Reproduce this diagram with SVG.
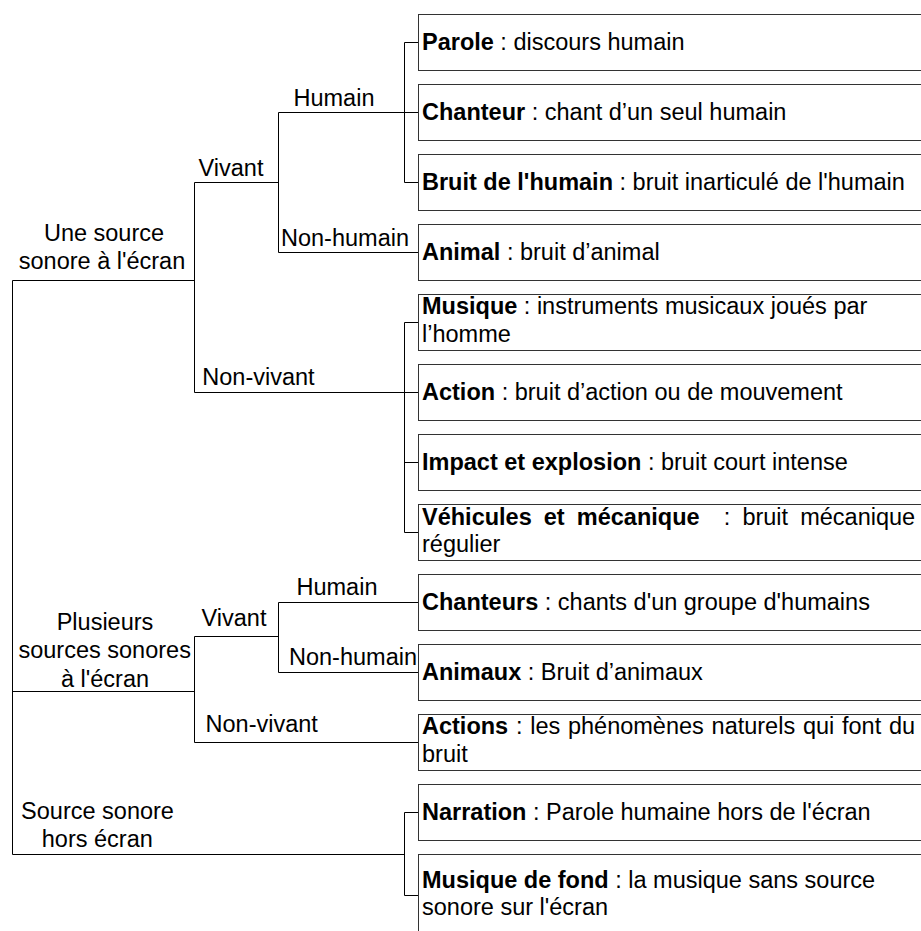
<svg xmlns="http://www.w3.org/2000/svg" width="921" height="931" viewBox="0 0 921 931">
<style>
text{font-family:"Liberation Sans",Arial,sans-serif;font-size:23.5px;fill:#000}
.b{font-weight:bold}
.m{text-anchor:middle}
.box{fill:#fff;stroke:#333;stroke-width:1}
.c{fill:none;stroke:#000;stroke-width:1}
</style>
<rect width="921" height="931" fill="#fff"/>
<g id="connectors">
<path class="c" d="M12.5 280.5 V854.5 M12.5 280.5 H194.5 M194.5 182.5 V392.5 M194.5 182.5 H278.5 M278.5 112.5 V252.5 M278.5 112.5 H418 M278.5 252.5 H418 M404.5 42.5 V182.5 M404.5 42.5 H418 M404.5 182.5 H418 M194.5 392.5 H418 M404.5 322.5 V532.5 M404.5 322.5 H418 M404.5 462.5 H418 M404.5 532.5 H418"/>
<path class="c" d="M12.5 691.5 H194.5 M194.5 636.5 V742.5 M194.5 636.5 H278.5 M278.5 602.5 V672.5 M278.5 602.5 H418 M278.5 672.5 H418 M194.5 742.5 H418"/>
<path class="c" d="M12.5 854.5 H404.5 M404.5 812.5 V895.5 M404.5 812.5 H418 M404.5 895.5 H418"/>
</g>
<g id="n-une-source"><text class="m" x="104" y="241">Une source</text><text class="m" x="102" y="268.5">sonore à l'écran</text></g>
<g id="n-vivant1"><text class="m" x="231" y="176">Vivant</text></g>
<g id="n-humain1"><text class="m" x="334" y="106">Humain</text></g>
<g id="n-nonhumain1"><text class="m" x="345" y="246">Non-humain</text></g>
<g id="n-nonvivant1"><text class="m" x="258.5" y="385">Non-vivant</text></g>
<g id="n-plusieurs"><text class="m" x="105" y="629.5">Plusieurs</text><text class="m" x="104.7" y="658.3">sources sonores</text><text class="m" x="105" y="687">à l'écran</text></g>
<g id="n-vivant2"><text class="m" x="234" y="626">Vivant</text></g>
<g id="n-humain2"><text class="m" x="337" y="595">Humain</text></g>
<g id="n-nonhumain2"><text class="m" x="353" y="664.5">Non-humain</text></g>
<g id="n-nonvivant2"><text class="m" x="261.7" y="732">Non-vivant</text></g>
<g id="n-hors"><text class="m" x="97.5" y="819">Source sonore</text><text class="m" x="97.3" y="847">hors écran</text></g>

<g id="b-parole"><rect class="box" x="418.5" y="14.5" width="520" height="56"/><text x="422" y="50"><tspan class="b">Parole</tspan> : discours humain</text></g>
<g id="b-chanteur"><rect class="box" x="418.5" y="84.5" width="520" height="56"/><text x="422" y="120"><tspan class="b">Chanteur</tspan> : chant d’un seul humain</text></g>
<g id="b-bruit"><rect class="box" x="418.5" y="154.5" width="520" height="56"/><text x="422" y="190"><tspan class="b">Bruit de l'humain</tspan> : bruit inarticulé de l'humain</text></g>
<g id="b-animal"><rect class="box" x="418.5" y="224.5" width="520" height="56"/><text x="422" y="260"><tspan class="b">Animal</tspan> : bruit d’animal</text></g>
<g id="b-musique"><rect class="box" x="418.5" y="294.5" width="520" height="56"/><text x="422" y="314"><tspan class="b">Musique</tspan> : instruments musicaux joués par</text><text x="422" y="342">l’homme</text></g>
<g id="b-action"><rect class="box" x="418.5" y="364.5" width="520" height="56"/><text x="422" y="400"><tspan class="b">Action</tspan> : bruit d’action ou de mouvement</text></g>
<g id="b-impact"><rect class="box" x="418.5" y="434.5" width="520" height="56"/><text x="422" y="470"><tspan class="b">Impact et explosion</tspan> : bruit court intense</text></g>
<g id="b-vehicules"><rect class="box" x="418.5" y="504.5" width="520" height="56"/><text y="524.5"><tspan class="b" x="422">Véhicules</tspan><tspan class="b" x="543.8">et</tspan><tspan class="b" x="576.8">mécanique</tspan><tspan x="723.8">:</tspan><tspan x="742.4">bruit</tspan><tspan x="800.2">mécanique</tspan></text><text x="422" y="552">régulier</text></g>
<g id="b-chanteurs"><rect class="box" x="418.5" y="574.5" width="520" height="56"/><text x="422" y="610"><tspan class="b">Chanteurs</tspan> : chants d'un groupe d'humains</text></g>
<g id="b-animaux"><rect class="box" x="418.5" y="644.5" width="520" height="56"/><text x="422" y="680"><tspan class="b">Animaux</tspan> : Bruit d’animaux</text></g>
<g id="b-actions"><rect class="box" x="418.5" y="714.5" width="520" height="56"/><text x="422" y="734" word-spacing="1.2"><tspan class="b">Actions</tspan> : les phénomènes naturels qui font du</text><text x="422" y="762">bruit</text></g>
<g id="b-narration"><rect class="box" x="418.5" y="784.5" width="520" height="56"/><text x="422" y="820"><tspan class="b">Narration</tspan> : Parole humaine hors de l'écran</text></g>
<g id="b-fond"><rect class="box" x="418.5" y="854.5" width="520" height="100"/><text x="422" y="887.5"><tspan class="b">Musique de fond</tspan> : la musique sans source</text><text x="422" y="915">sonore sur l'écran</text></g>
</svg>
